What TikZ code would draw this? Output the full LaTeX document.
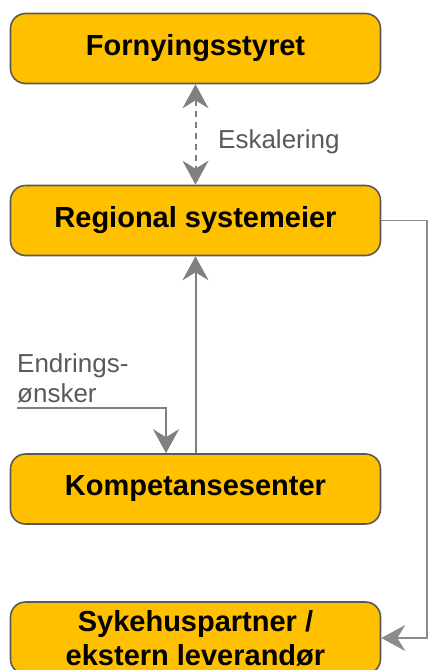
\documentclass[tikz,border=0pt]{standalone}
\usepackage{fontspec}
\setmainfont{Liberation Sans}
\usetikzlibrary{arrows.meta}
\definecolor{boxfill}{HTML}{FFC000}
\definecolor{boxline}{HTML}{595959}
\definecolor{conncol}{HTML}{808080}
\definecolor{conncolb}{HTML}{8C8C8C}
\definecolor{labcol}{HTML}{595959}
\tikzset{
  stagebox/.style={draw=boxline, fill=boxfill, line width=1.6pt, rounded corners=15pt,
    minimum width=370pt, minimum height=70pt, inner sep=0pt, align=center,
    font=\fontsize{29}{35}\selectfont\bfseries, text=black},
  bigtip/.tip={Stealth[length=24pt,width=26pt,inset=8pt]},
  conn/.style={draw=conncol, line width=2pt, -{bigtip}},
  connthin/.style={draw=conncolb, line width=1.4pt, -{bigtip}},
  lab/.style={text=labcol, font=\fontsize{26}{30}\selectfont, inner sep=0pt, anchor=base west},
}
\begin{document}
\begin{tikzpicture}[x=1pt,y=-1pt]
\useasboundingbox (0,0) rectangle (428,670);
\clip (0,0) rectangle (428,670);
\node[stagebox] (fs) at (195.5,48.5) {Fornyingsstyret};
\node[stagebox] (rs) at (195.5,220.5) {Regional systemeier};
\node[stagebox] (ks) at (195.5,489) {Kompetansesenter};
\node[stagebox, minimum height=72pt] (sp) at (195.5,638) {Sykehuspartner /\\[-1pt]ekstern leverandør};
\draw[conn, {bigtip}-{bigtip}, dash pattern=on 6pt off 5pt] (fs.south) -- (rs.north);
\node[lab] (esk) at (218,148) {Eskalering};
\draw[conn] (ks.north) -- (rs.south);
\node[lab] (end1) at (17,372) {Endrings-};
\node[lab] (end2) at (17,402) {ønsker};
\coordinate (e0) at (17,408);
\draw[conn, rounded corners=0pt] (e0) -| ([xshift=-29.5pt]ks.north);
\coordinate (rc) at (427,220.5);
\draw[connthin] (rs.east) -- (rc) |- (sp.east);
\end{tikzpicture}
\end{document}
